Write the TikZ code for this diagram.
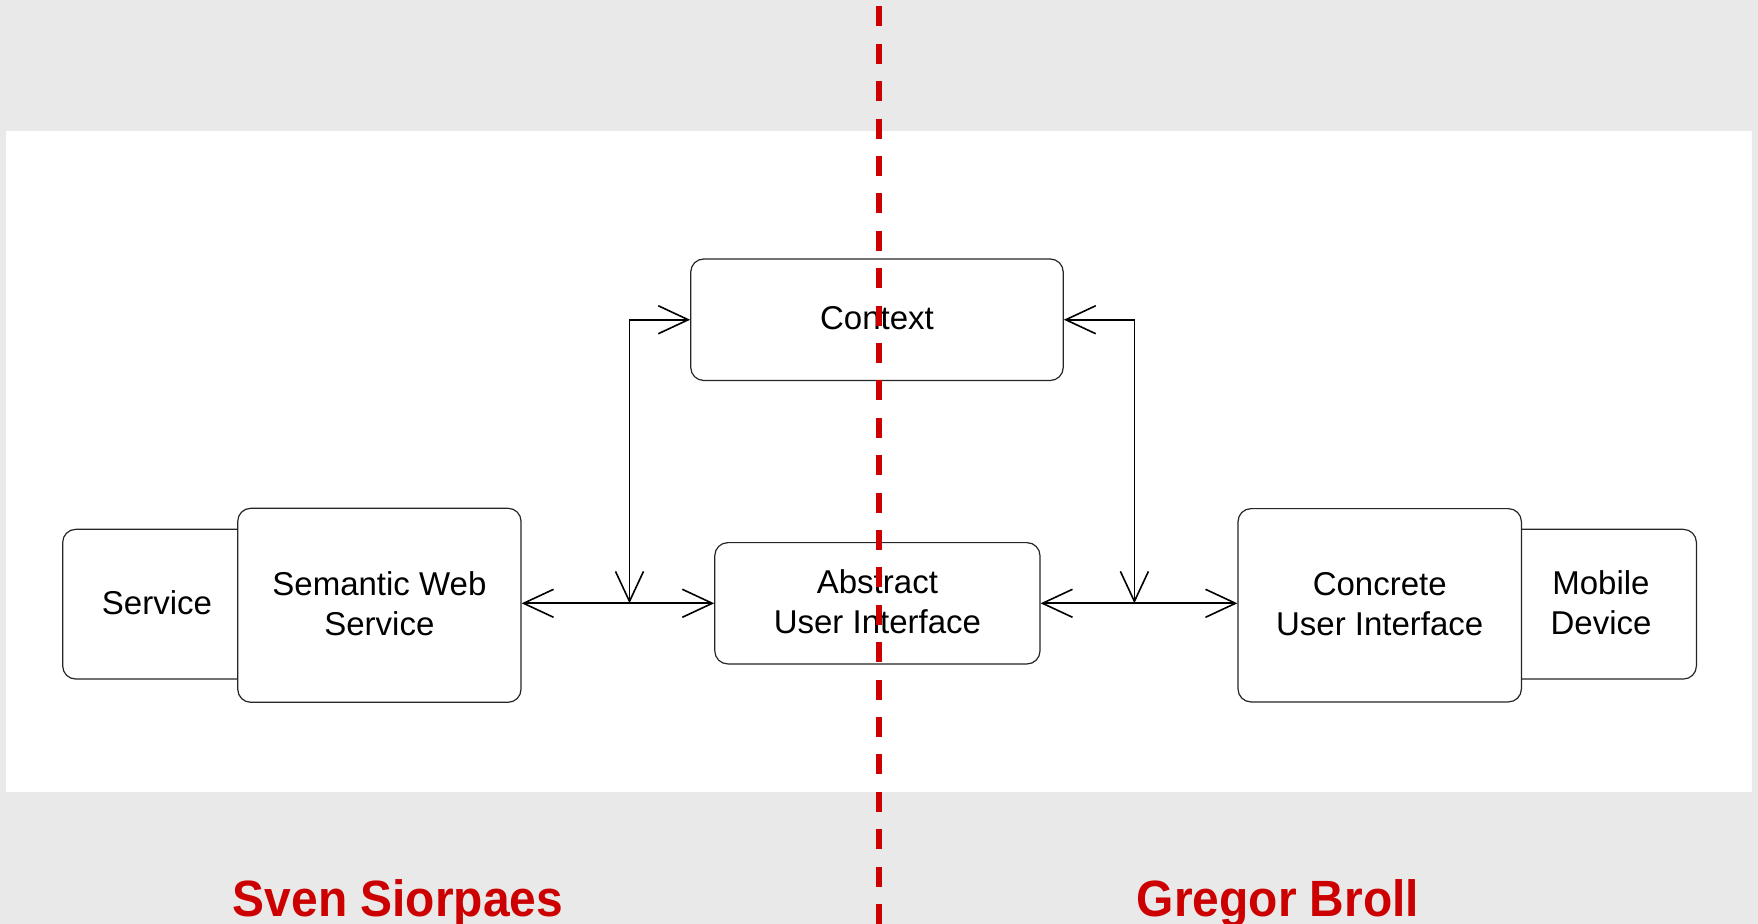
\documentclass[tikz,border=0pt]{standalone}
\usepackage{fontspec}
\setmainfont{Liberation Sans}
\usetikzlibrary{arrows.meta}
\definecolor{bggray}{HTML}{E9E9E9}
\definecolor{sepred}{HTML}{CC0000}
\begin{document}
\begin{tikzpicture}[x=0.5pt,y=-0.5pt,
  box/.style={draw=black!85, line width=0.6pt, fill=white, rounded corners=6.5pt,
    inner sep=0pt, align=center, text depth=1.5pt, font=\fontsize{16.5}{20}\selectfont},
  conn/.style={line width=0.8pt, {Straight Barb[length=15pt,width=14pt,line width=0.8pt]}-{Straight Barb[length=15pt,width=14pt,line width=0.8pt]}},
  author/.style={text=sepred, anchor=base, xscale=0.94, inner sep=0pt, font=\bfseries\fontsize{25.5}{28}\selectfont}]
\useasboundingbox (0,0) rectangle (1758,924);
\fill[bggray] (0,0) rectangle (1758,924);
\fill[white] (5.6,131) rectangle (1752,791.7);
% nodes
\node[box, minimum width=186.25pt, minimum height=60.75pt] (ctx) at (877,319.75) {Context};
\node[box, minimum width=162.6pt, minimum height=60.65pt] (aui) at (877.4,603.3) {Abstract\\User Interface};
\node[box, minimum width=94.3pt, minimum height=74.85pt] (svc) at (157,604.2) {Service};
\node[box, minimum width=141.65pt, minimum height=97pt] (sws) at (379.4,605.3) {Semantic Web\\Service};
\node[box, minimum width=95.4pt, minimum height=74.85pt] (mob) at (1601,604.2) {Mobile\\Device};
\node[box, minimum width=141.7pt, minimum height=96.65pt] (cui) at (1379.7,605.3) {Concrete\\User Interface};
% connectors
\coordinate (jl) at (629.5,603.3);
\coordinate (jr) at (1134.4,603.3);
\draw[conn] (sws.east |- aui.west) -- (aui.west);
\draw[conn] (aui.east) -- (cui.west |- aui.east);
\draw[conn] (jl) |- (ctx.west);
\draw[conn] (jr) |- (ctx.east);
% separator
\coordinate (st) at (879,6.5);
\coordinate (sb) at (879,924);
\draw[sepred, line width=2.6pt, dash pattern=on 10pt off 8.7pt] (st) -- (sb);
% authors
\node[author] (sven) at (398,916.7) {Sven Siorpaes};
\node[author] (gregor) at (1278,916.7) {Gregor Broll};
\end{tikzpicture}
\end{document}
